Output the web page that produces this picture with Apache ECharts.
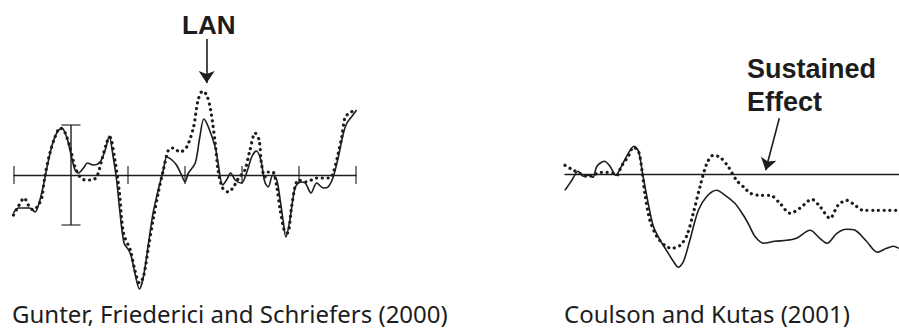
<!DOCTYPE html>
<html>
<head>
<meta charset="utf-8">
<script src="https://cdn.jsdelivr.net/npm/echarts@6/dist/echarts.min.js"></script>
<style>
  html, body { margin: 0; padding: 0; background: #fff; }
  #chart { width: 899px; height: 328px; }
</style>
</head>
<body>
<div id="chart"></div>
<script>
// Left panel: time in ms (x) and amplitude in µV (y), solid vs dotted condition
const leftSolid = [
  [-101,-3.8],[-92,-3.3],[-81,-3.3],[-72,-3.3],[-63,-3.7],[-56,-2.8],[-49,-1.2],[-43,0.5],
  [-34,2.8],[-25,4.2],[-16,4.7],[-11,4.3],[-5,3.3],[1,1.8],[7,0.5],[13,0.2],[22,0.7],[29,1.2],
  [39,1.0],[51,1.3],[60,2.5],[67,3.9],[74,1.8],[80,-0.5],[86,-3.8],[93,-6.8],[101,-7.5],
  [106,-8.2],[112,-9.8],[120,-11.4],[127,-10.2],[136,-6.8],[144,-3.8],[153,-1.5],[162,0.5],
  [168,1.8],[177,1.5],[185,1.0],[194,0],[200,-0.7],[206,0.2],[218,1.2],[226,3.8],[233,5.6],
  [241,4.8],[253,2.8],[258,1.2],[266,-1.0],[273,-0.5],[280,0.2],[288,-0.5],[299,-0.8],
  [308,0.2],[317,1.8],[325,2.4],[333,1.5],[340,-0.7],[346,-1.2],[354,0],[361,-0.5],
  [367,-2.5],[372,-4.5],[377,-6.2],[384,-4.5],[393,-1.3],[402,-0.7],[411,-0.8],[421,-1.8],
  [431,-0.8],[443,-1.3],[451,-1.2],[460,-0.2],[469,1.8],[478,4.2],[484,5.2],[492,5.8],[501,6.5]
];
const leftDotted = [
  [-101,-4.0],[-93,-3.2],[-82,-2.3],[-75,-3.0],[-66,-3.5],[-57,-3.0],[-51,-2.2],[-46,-0.2],
  [-37,2.2],[-28,3.8],[-19,4.7],[-11,4.3],[-2,2.8],[7,0.8],[16,-0.2],[25,-0.5],[36,-0.5],
  [45,-0.2],[54,1.5],[63,3.3],[68,3.8],[77,1.5],[85,-1.8],[92,-5.8],[104,-7.5],[112,-9.5],
  [120,-10.8],[127,-10.2],[136,-7.2],[144,-4.5],[153,-1.8],[162,0.5],[171,2.5],[179,2.7],
  [191,2.3],[203,2.8],[215,4.8],[223,7.5],[231,8.4],[238,8.0],[245,6.5],[253,3.2],[258,0.5],
  [266,-1.3],[276,-1.7],[285,-1.2],[294,-0.3],[305,0.5],[314,2.5],[323,4.2],[330,3.5],
  [334,1.2],[340,-0.2],[346,0.3],[354,0.3],[361,-1.2],[367,-3.5],[374,-5.5],[380,-5.8],
  [387,-3.2],[393,-1.2],[399,-0.5],[411,-0.7],[422,-0.5],[431,-0.3],[443,-0.3],[454,-0.3],
  [460,0.2],[469,2.2],[475,3.8],[481,5.8],[489,6.2],[498,6.5]
];
const leftTicks = [-100, 100, 200, 300, 400, 500];
const scaleBar = [[0, -5], [0, 5]];          // ±5 µV calibration bar at stimulus onset
const lanArrow = [[238, 13.6], [238, 9.2]];

// Right panel
const rightSolid = [
  [-100,-1.6],[-88,-0.6],[-77,0.3],[-68,-0.2],[-59,-0.1],[-51,-0.3],[-44,0.8],[-31,1.3],
  [-21,0.8],[-11,-0.1],[-1,0.8],[11,2.1],[21,2.8],[29,2.3],[36,0.1],[46,-2.9],[55,-5.2],
  [67,-6.6],[78,-7.6],[90,-8.7],[99,-9.3],[108,-8.7],[119,-6.6],[134,-3.6],[149,-2.2],
  [166,-1.6],[181,-2.1],[198,-2.9],[213,-4.1],[224,-5.2],[233,-6.2],[248,-6.9],[268,-6.7],
  [289,-6.6],[306,-6.4],[330,-5.6],[347,-6.4],[360,-6.9],[377,-5.9],[394,-5.5],[409,-5.6],
  [429,-6.7],[448,-7.8],[464,-7.4],[476,-7.2],[486,-7.4]
];
const rightDotted = [
  [-100,0.9],[-85,0.4],[-74,0.1],[-62,-0.2],[-50,-0.1],[-39,0.2],[-27,0.2],[-15,0.1],
  [-9,-0.1],[-1,0.8],[11,1.8],[20,2.7],[29,2.3],[35,0.4],[40,-1.9],[49,-4.6],[61,-6.2],
  [75,-7.1],[87,-7.4],[102,-7.1],[114,-6.1],[125,-3.9],[137,-1.2],[149,1.1],[160,1.9],
  [172,1.7],[186,0.8],[201,-0.6],[216,-1.4],[225,-1.9],[242,-2.1],[260,-2.1],[277,-2.9],
  [295,-3.9],[312,-3.4],[333,-2.5],[347,-3.2],[365,-4.4],[379,-3.1],[394,-2.6],[409,-3.1],
  [423,-3.6],[447,-3.6],[464,-3.6],[486,-3.6]
];
const sustainedArrow = [[276, 5.6], [252, 0.4]];

const leftCaption = 'Gunter, Friederici and Schriefers (2000)';
const rightCaption = 'Coulson and Kutas (2001)';

const INK = '#1d1d1d';
const solidStyle = { color: INK, width: 1.6 };
const dottedStyle = { color: INK, width: 3.2, type: [0.1, 5.6], cap: 'round' };

function arrowLine(pts) {
  return {
    silent: true,
    symbol: ['none', 'arrow'],
    symbolSize: 12,
    label: { show: false },
    lineStyle: { color: INK, width: 1.6, type: 'solid' },
    data: [[{ coord: pts[0] }, { coord: pts[1] }]]
  };
}

const chart = echarts.init(document.getElementById('chart'), null, { renderer: 'svg' });

chart.setOption({
  animation: false,
  backgroundColor: '#ffffff',
  grid: [
    { left: 14, width: 342, top: 15, height: 280 },
    { left: 565, width: 334, top: 14.3, height: 280 }
  ],
  xAxis: [
    { gridIndex: 0, type: 'value', min: -100, max: 500,
      axisLine: { onZero: true, lineStyle: { color: INK, width: 1.4 } },
      axisTick: { show: false }, axisLabel: { show: false }, splitLine: { show: false } },
    { gridIndex: 1, type: 'value', min: -100, max: 486,
      axisLine: { onZero: true, lineStyle: { color: INK, width: 1.4 } },
      axisTick: { show: false }, axisLabel: { show: false }, splitLine: { show: false } }
  ],
  yAxis: [
    { gridIndex: 0, type: 'value', min: -12, max: 16, show: false },
    { gridIndex: 1, type: 'value', min: -12, max: 16, show: false }
  ],
  series: [
    { type: 'scatter', xAxisIndex: 0, yAxisIndex: 0, silent: true,
      data: leftTicks.map(t => [t, 0]), symbol: 'rect', symbolSize: [1.4, 18],
      itemStyle: { color: INK } },
    { type: 'line', xAxisIndex: 0, yAxisIndex: 0, silent: true, data: scaleBar,
      symbol: 'none', lineStyle: { color: INK, width: 1.4 } },
    { type: 'scatter', xAxisIndex: 0, yAxisIndex: 0, silent: true, data: scaleBar,
      symbol: 'rect', symbolSize: [19, 1.4], itemStyle: { color: INK } },
    { type: 'line', xAxisIndex: 0, yAxisIndex: 0, data: leftDotted, smooth: 0.3,
      symbol: 'none', lineStyle: dottedStyle, clip: false },
    { type: 'line', xAxisIndex: 0, yAxisIndex: 0, data: leftSolid, smooth: 0.3,
      symbol: 'none', lineStyle: solidStyle, clip: false, markLine: arrowLine(lanArrow) },
    { type: 'line', xAxisIndex: 1, yAxisIndex: 1, data: rightDotted, smooth: 0.3,
      symbol: 'none', lineStyle: dottedStyle, clip: false },
    { type: 'line', xAxisIndex: 1, yAxisIndex: 1, data: rightSolid, smooth: 0.3,
      symbol: 'none', lineStyle: solidStyle, clip: false, markLine: arrowLine(sustainedArrow) }
  ],
  graphic: [
    { type: 'text', left: 182, top: 12,
      style: { text: 'LAN', font: 'bold 26px "Liberation Sans", Arial, sans-serif', fill: INK } },
    { type: 'text', left: 747, top: 52,
      style: { text: 'Sustained\nEffect', font: 'bold 27px "Liberation Sans", Arial, sans-serif',
               lineHeight: 33, fill: INK } },
    { type: 'text', left: 12, top: 300,
      style: { text: leftCaption, font: '24px "Noto Sans", sans-serif', lineHeight: 26, fill: INK } },
    { type: 'text', left: 564, top: 300,
      style: { text: rightCaption, font: '24px "Noto Sans", sans-serif', lineHeight: 26, fill: INK } }
  ]
});
</script>
</body>
</html>
